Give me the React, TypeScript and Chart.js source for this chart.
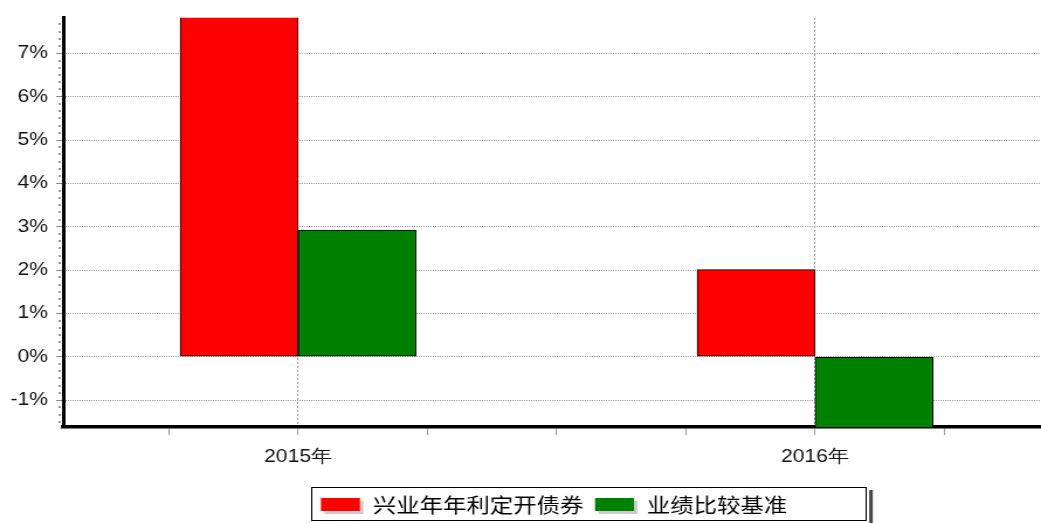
import React, { useEffect, useRef } from 'react';
import { Chart, registerables } from 'chart.js';

Chart.register(...registerables);

// ---- data ----
const categories = ['2015年', '2016年'];
const categoryPositions = [0, 1];
const seriesNames = ['兴业年年利定开债券', '业绩比较基准'];
const fundValues = [9.6, 2.01];
const benchmarkValues = [2.92, -3.0];
const seriesColors = ['#ff0000', '#008000'];
const Y_MIN = -1.62;
const Y_MAX = 7.82;
const X_MIN = -0.4545;
const X_MAX = 1.437;

// ---- render geometry ----
const STRETCH = 1.17;
const OUT_W = 1041;
const OUT_H = 523;
const CANVAS_W = Math.round(OUT_W / STRETCH);
const CANVAS_H = OUT_H;

const isInt = (v: number) => Math.abs(v - Math.round(v)) < 1e-6;

const minorTicksPlugin = {
  id: 'minorTicks',
  afterDraw(chart: any) {
    const y = chart.scales.y;
    const ctx = chart.ctx;
    const left = chart.chartArea.left;
    ctx.save();
    ctx.fillStyle = '#999';
    for (let k = Math.ceil(Y_MIN * 6); k <= Math.floor(Y_MAX * 6); k++) {
      if (k % 6 === 0) continue;
      const py = y.getPixelForValue(k / 6);
      ctx.fillRect(left - 4, Math.round(py) - 1, 2, 2);
    }
    ctx.restore();
  },
};

const boxLegendPlugin = {
  id: 'boxLegend',
  afterDraw(chart: any) {
    const ctx = chart.ctx;
    const boxLeft = 311 / STRETCH;
    const boxTop = 487;
    const boxW = (866 - 311) / STRETCH;
    const boxH = 33;
    ctx.save();
    // shadow
    ctx.fillStyle = '#444';
    ctx.fillRect(boxLeft + boxW + 3, boxTop + 3, 3, boxH);
    // box
    ctx.fillStyle = '#fff';
    ctx.fillRect(boxLeft, boxTop, boxW, boxH);
    ctx.strokeStyle = '#000';
    ctx.lineWidth = 1;
    ctx.strokeRect(Math.round(boxLeft) + 0.5, boxTop + 0.5, Math.round(boxW), boxH);

    ctx.font = '20px "Noto Sans CJK SC", sans-serif';
    ctx.textBaseline = 'middle';
    ctx.textAlign = 'left';
    let x = 321 / STRETCH;
    const swW = 39 / STRETCH;
    const swH = 13;
    const swY = 498;
    chart.data.datasets.forEach((ds: any) => {
      ctx.fillStyle = '#ccc';
      ctx.fillRect(x + 3, swY + 3, swW, swH);
      ctx.fillStyle = ds.backgroundColor;
      ctx.fillRect(x, swY, swW, swH);
      x += swW + 11;
      ctx.fillStyle = '#000';
      ctx.fillText(ds.label, x, 505);
      x += ctx.measureText(ds.label).width + 10;
    });
    ctx.restore();
  },
};

export default function App() {
  const ref = useRef<HTMLCanvasElement | null>(null);

  useEffect(() => {
    document.body.style.margin = '0';
    const canvas = ref.current;
    if (!canvas) return;
    const tickFont = { family: '"Liberation Sans", Arial, sans-serif', size: 18 };
    const chart = new Chart(canvas, {
      type: 'bar',
      data: {
        datasets: [
          {
            label: seriesNames[0],
            data: categoryPositions.map((x, i) => ({ x, y: fundValues[i] })),
            backgroundColor: seriesColors[0],
            borderColor: '#000',
            borderWidth: 1,
            borderSkipped: false,
            barThickness: 118 / STRETCH,
          },
          {
            label: seriesNames[1],
            data: categoryPositions.map((x, i) => ({ x, y: benchmarkValues[i] })),
            backgroundColor: seriesColors[1],
            borderColor: '#000',
            borderWidth: 1,
            borderSkipped: false,
            barThickness: 118 / STRETCH,
          },
        ],
      },
      options: {
        responsive: false,
        animation: false,
        devicePixelRatio: 1,
        layout: { padding: { top: 11, left: 0, right: 0, bottom: 0 } },
        plugins: {
          legend: { display: false },
          tooltip: { enabled: false },
          title: { display: false },
        },
        scales: {
          x: {
            type: 'linear',
            min: X_MIN,
            max: X_MAX,
            offset: false,
            afterFit: (s: any) => {
              s.height = 96;
            },
            grid: {
              offset: false,
              color: (c: any) => (c.tick && isInt(c.tick.value) ? '#888' : 'rgba(0,0,0,0)'),
              lineWidth: 1,
              drawTicks: true,
              tickLength: 8,
              tickColor: '#999',
            },
            border: { display: true, color: '#000', width: 3.5, dash: [2, 2] },
            ticks: {
              stepSize: 0.25,
              includeBounds: false,
              autoSkip: false,
              maxRotation: 0,
              minRotation: 0,
              padding: 11,
              color: '#111',
              font: tickFont,
              callback: (v: any) => {
                const n = Number(v);
                if (!isInt(n)) return '';
                const idx = categoryPositions.indexOf(Math.round(n));
                return idx >= 0 ? categories[idx] : '';
              },
            },
          },
          y: {
            type: 'linear',
            min: Y_MIN,
            max: Y_MAX,
            afterFit: (s: any) => {
              s.width = 54;
            },
            grid: {
              color: '#999',
              lineWidth: 1,
              drawTicks: true,
              tickLength: 6,
              tickColor: '#888',
            },
            border: { display: true, color: '#000', width: 3, dash: [1, 1] },
            ticks: {
              stepSize: 1,
              includeBounds: false,
              autoSkip: false,
              padding: 7,
              color: '#111',
              font: tickFont,
              callback: (v: any) => {
                const n = Number(v);
                return isInt(n) ? `${Math.round(n)}%` : '';
              },
            },
          },
        },
      },
      plugins: [minorTicksPlugin, boxLegendPlugin],
    } as any);
    return () => chart.destroy();
  }, []);

  return (
    <div style={{ width: OUT_W, height: OUT_H, overflow: 'hidden' }}>
      <canvas
        ref={ref}
        width={CANVAS_W}
        height={CANVAS_H}
        style={{ width: `${OUT_W}px`, height: `${OUT_H}px`, display: 'block' }}
      />
    </div>
  );
}
